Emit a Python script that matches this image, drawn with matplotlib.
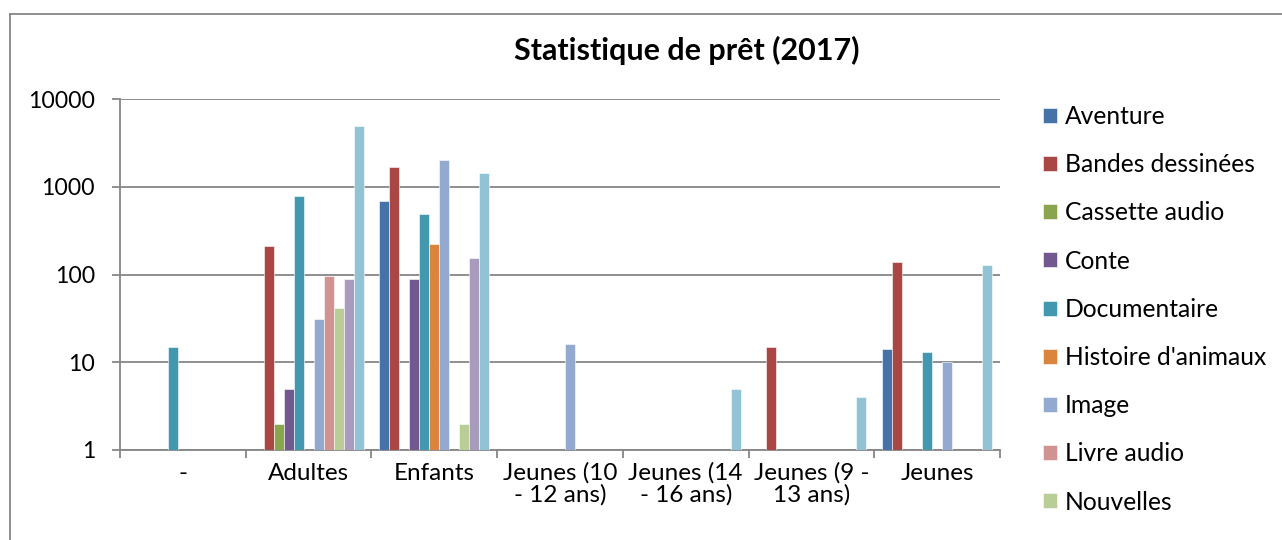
import numpy as np
import matplotlib.pyplot as plt
from matplotlib.lines import Line2D
from matplotlib.ticker import FixedLocator, FixedFormatter

# ================================ Data ================================ #

categories = ["-", "Adultes", "Enfants", "Jeunes (10\n- 12 ans)", "Jeunes (14\n- 16 ans)",
              "Jeunes (9 -\n13 ans)", "Jeunes"]
series = ["Aventure", "Bandes dessinées", "Cassette audio", "Conte", "Documentaire",
          "Histoire d'animaux", "Image", "Livre audio", "Nouvelles", "Poésie", "Roman"]
nan = np.nan
aventure      = [nan, nan, 690, nan, nan, nan, 14]
bandes        = [nan, 213, 1670, nan, nan, 15, 138]
cassette      = [nan, 2, nan, nan, nan, nan, nan]
conte         = [nan, 5, 88, nan, nan, nan, nan]
documentaire  = [15, 790, 485, nan, nan, nan, 13]
histoire      = [nan, nan, 223, nan, nan, nan, nan]
image         = [nan, 31, 2020, 16, nan, nan, 10]
livre_audio   = [nan, 97, nan, nan, nan, nan, nan]
nouvelles     = [nan, 41, 2, nan, nan, nan, nan]
poesie        = [nan, 90, 155, nan, nan, nan, nan]
roman         = [nan, 4960, 1445, nan, 5, 4, 127]
values = [aventure, bandes, cassette, conte, documentaire, histoire, image,
          livre_audio, nouvelles, poesie, roman]
colors = ["#4572A7", "#AA4643", "#89A54E", "#71588F", "#4198AF", "#DB843D",
          "#93A9CF", "#D19392", "#B9CD96", "#A99BBD", "#92C3D4"]

# ================================ Figure ================================ #

W, H = 1282, 540
fig = plt.figure(figsize=(W / 100, H / 100), dpi=100)
plt.rcParams['font.family'] = ['Lato', 'DejaVu Sans']
ax = fig.add_axes([120 / W, 1 - 450 / H, 880 / W, 351 / H])

n = len(series)
w = 1 / 12.58
gap = 1 - n * w
x = np.arange(len(categories))
for i, (vals, col) in enumerate(zip(values, colors)):
    off = -0.5 + gap / 2 + (i + 0.5) * w
    ax.bar(x + off, vals, width=w, color=col, label=series[i], zorder=3,
           edgecolor="white", linewidth=0.4)

ax.set_yscale("log")
ax.set_ylim(1, 10000)
ax.set_xlim(-0.5, len(categories) - 0.5)

grid_c = "#868686"
ax.yaxis.set_major_locator(FixedLocator([1, 10, 100, 1000, 10000]))
ax.yaxis.set_major_formatter(FixedFormatter(["1", "10", "100", "1000", "10000"]))
ax.yaxis.set_minor_locator(FixedLocator([]))
ax.grid(axis="y", color=grid_c, linewidth=1.3, zorder=0)

ax.set_xticks(x)
ax.set_xticklabels(categories, linespacing=1.0)
ax.set_xticks(np.arange(len(categories) + 1) - 0.5, minor=True)
ax.tick_params(axis="x", which="major", length=0, pad=9, labelsize=17.5)
ax.tick_params(axis="x", which="minor", length=6, width=1.3, color=grid_c, direction="out")
ax.tick_params(axis="y", which="major", length=6, width=1.3, color=grid_c, pad=12, labelsize=16.6)

for s in ["top", "right"]:
    ax.spines[s].set_visible(False)
for s in ["left", "bottom"]:
    ax.spines[s].set_color(grid_c)
    ax.spines[s].set_linewidth(1.3)

fig.text(687 / W, 1 - 50 / H, "Statistique de prêt (2017)", ha="center", va="center",
         fontsize=22, fontweight="bold")

handles, labels = ax.get_legend_handles_labels()
fig.legend(handles[:9], labels[:9], loc="upper left",
           bbox_to_anchor=(1043 / W, 1 - 105 / H), frameon=False, fontsize=17.7,
           handlelength=0.57, handleheight=0.57, handletextpad=0.33, labelspacing=1.025,
           borderaxespad=0, borderpad=0)

# chart border
fig.add_artist(Line2D([10 / W, 10 / W], [0, 1 - 14 / H], color=grid_c, linewidth=1.3))
fig.add_artist(Line2D([10 / W, 1], [1 - 14 / H, 1 - 14 / H], color=grid_c, linewidth=1.3))

fig.savefig("out.png", dpi=100)
